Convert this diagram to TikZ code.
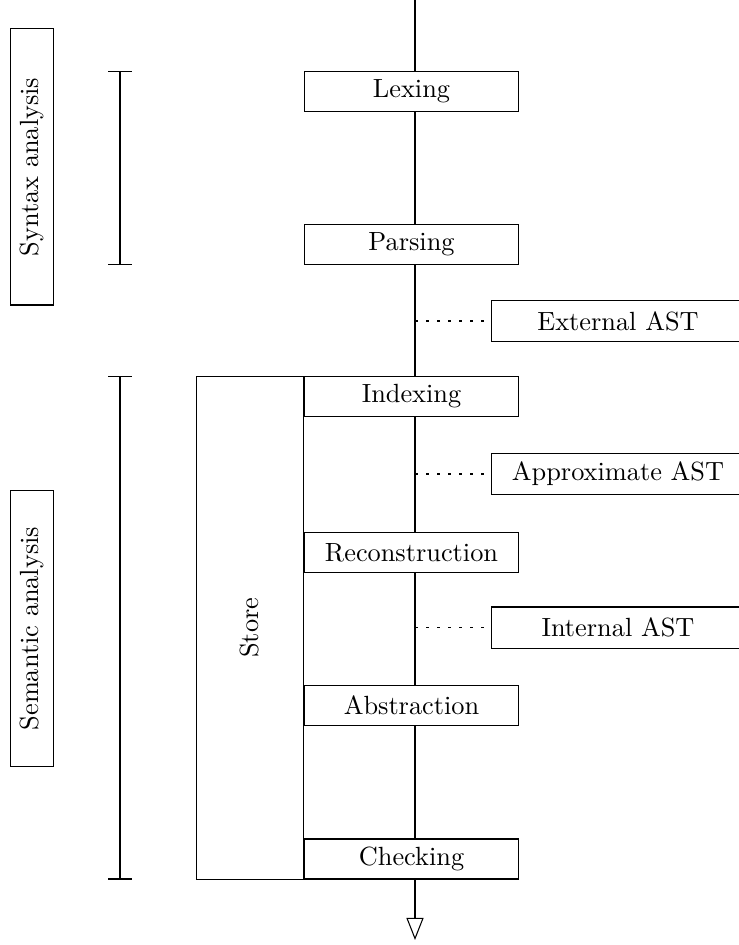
\documentclass[tikz,border=0pt]{standalone}
\usetikzlibrary{arrows.meta,positioning}

\begin{document}
\begin{tikzpicture}[x=0.38pt,y=0.38pt,yscale=-1,
  stage/.style={draw,fill=white,minimum width=81.3pt,minimum height=15.2pt,inner sep=0pt},
  ast/.style={draw,fill=white,minimum width=96.5pt,minimum height=15.6pt,inner sep=0pt},
  phase/.style={draw,rotate=90,minimum width=104.9pt,minimum height=16pt,inner sep=0pt},
  dotline/.style={dash pattern={on 1pt off 3.2pt}},
  bracket/.style={{Bar[width=9.1pt]}-{Bar[width=9.1pt]}}]
\useasboundingbox (0,0) rectangle (738,945);
%Coordinates of the spine and the brackets
\coordinate (top) at (415,0);
\coordinate (bottom) at (415,940);
\coordinate (brx) at (120,0);
%Spine
\draw [-{Triangle[open,length=8.4pt,width=6.5pt]}] (top) -- (bottom) ;
%Stages
\node [stage] (lex) at (411.5,91.5) {Lexing};
\node [stage] (pars) at (411.5,244.5) {Parsing};
\node [stage] (idx) at (411.5,396.5) {Indexing};
\node [stage] (rec) at (411.5,552.5) {Reconstruction};
\node [stage] (abs) at (411.5,705.5) {Abstraction};
\node [stage] (chk) at (411.5,859) {Checking};
%Store
\node [draw,rotate=90,minimum width=191pt,minimum height=40.7pt,inner sep=0pt,anchor=south east] (store) at (idx.north west) {Store};
%ASTs
\node [ast] (ext) at (618,321) {External AST};
\node [ast] (approx) at (618,474) {Approximate AST};
\node [ast] (int) at (618,627.5) {Internal AST};
\draw [dotline] (ext.west -| top) -- (ext.west) ;
\draw [dotline] (approx.west -| top) -- (approx.west) ;
\draw [dotline] (int.west -| top) -- (int.west) ;
%Brackets
\draw [bracket] (lex.north -| brx) -- (pars.south -| brx) ;
\draw [bracket] (idx.north -| brx) -- (chk.south -| brx) ;
%Phases
\node [phase] (syn) at (32,167) {Syntax analysis};
\node [phase] (sem) at (32,628.5) {Semantic analysis};
\end{tikzpicture}
\end{document}
